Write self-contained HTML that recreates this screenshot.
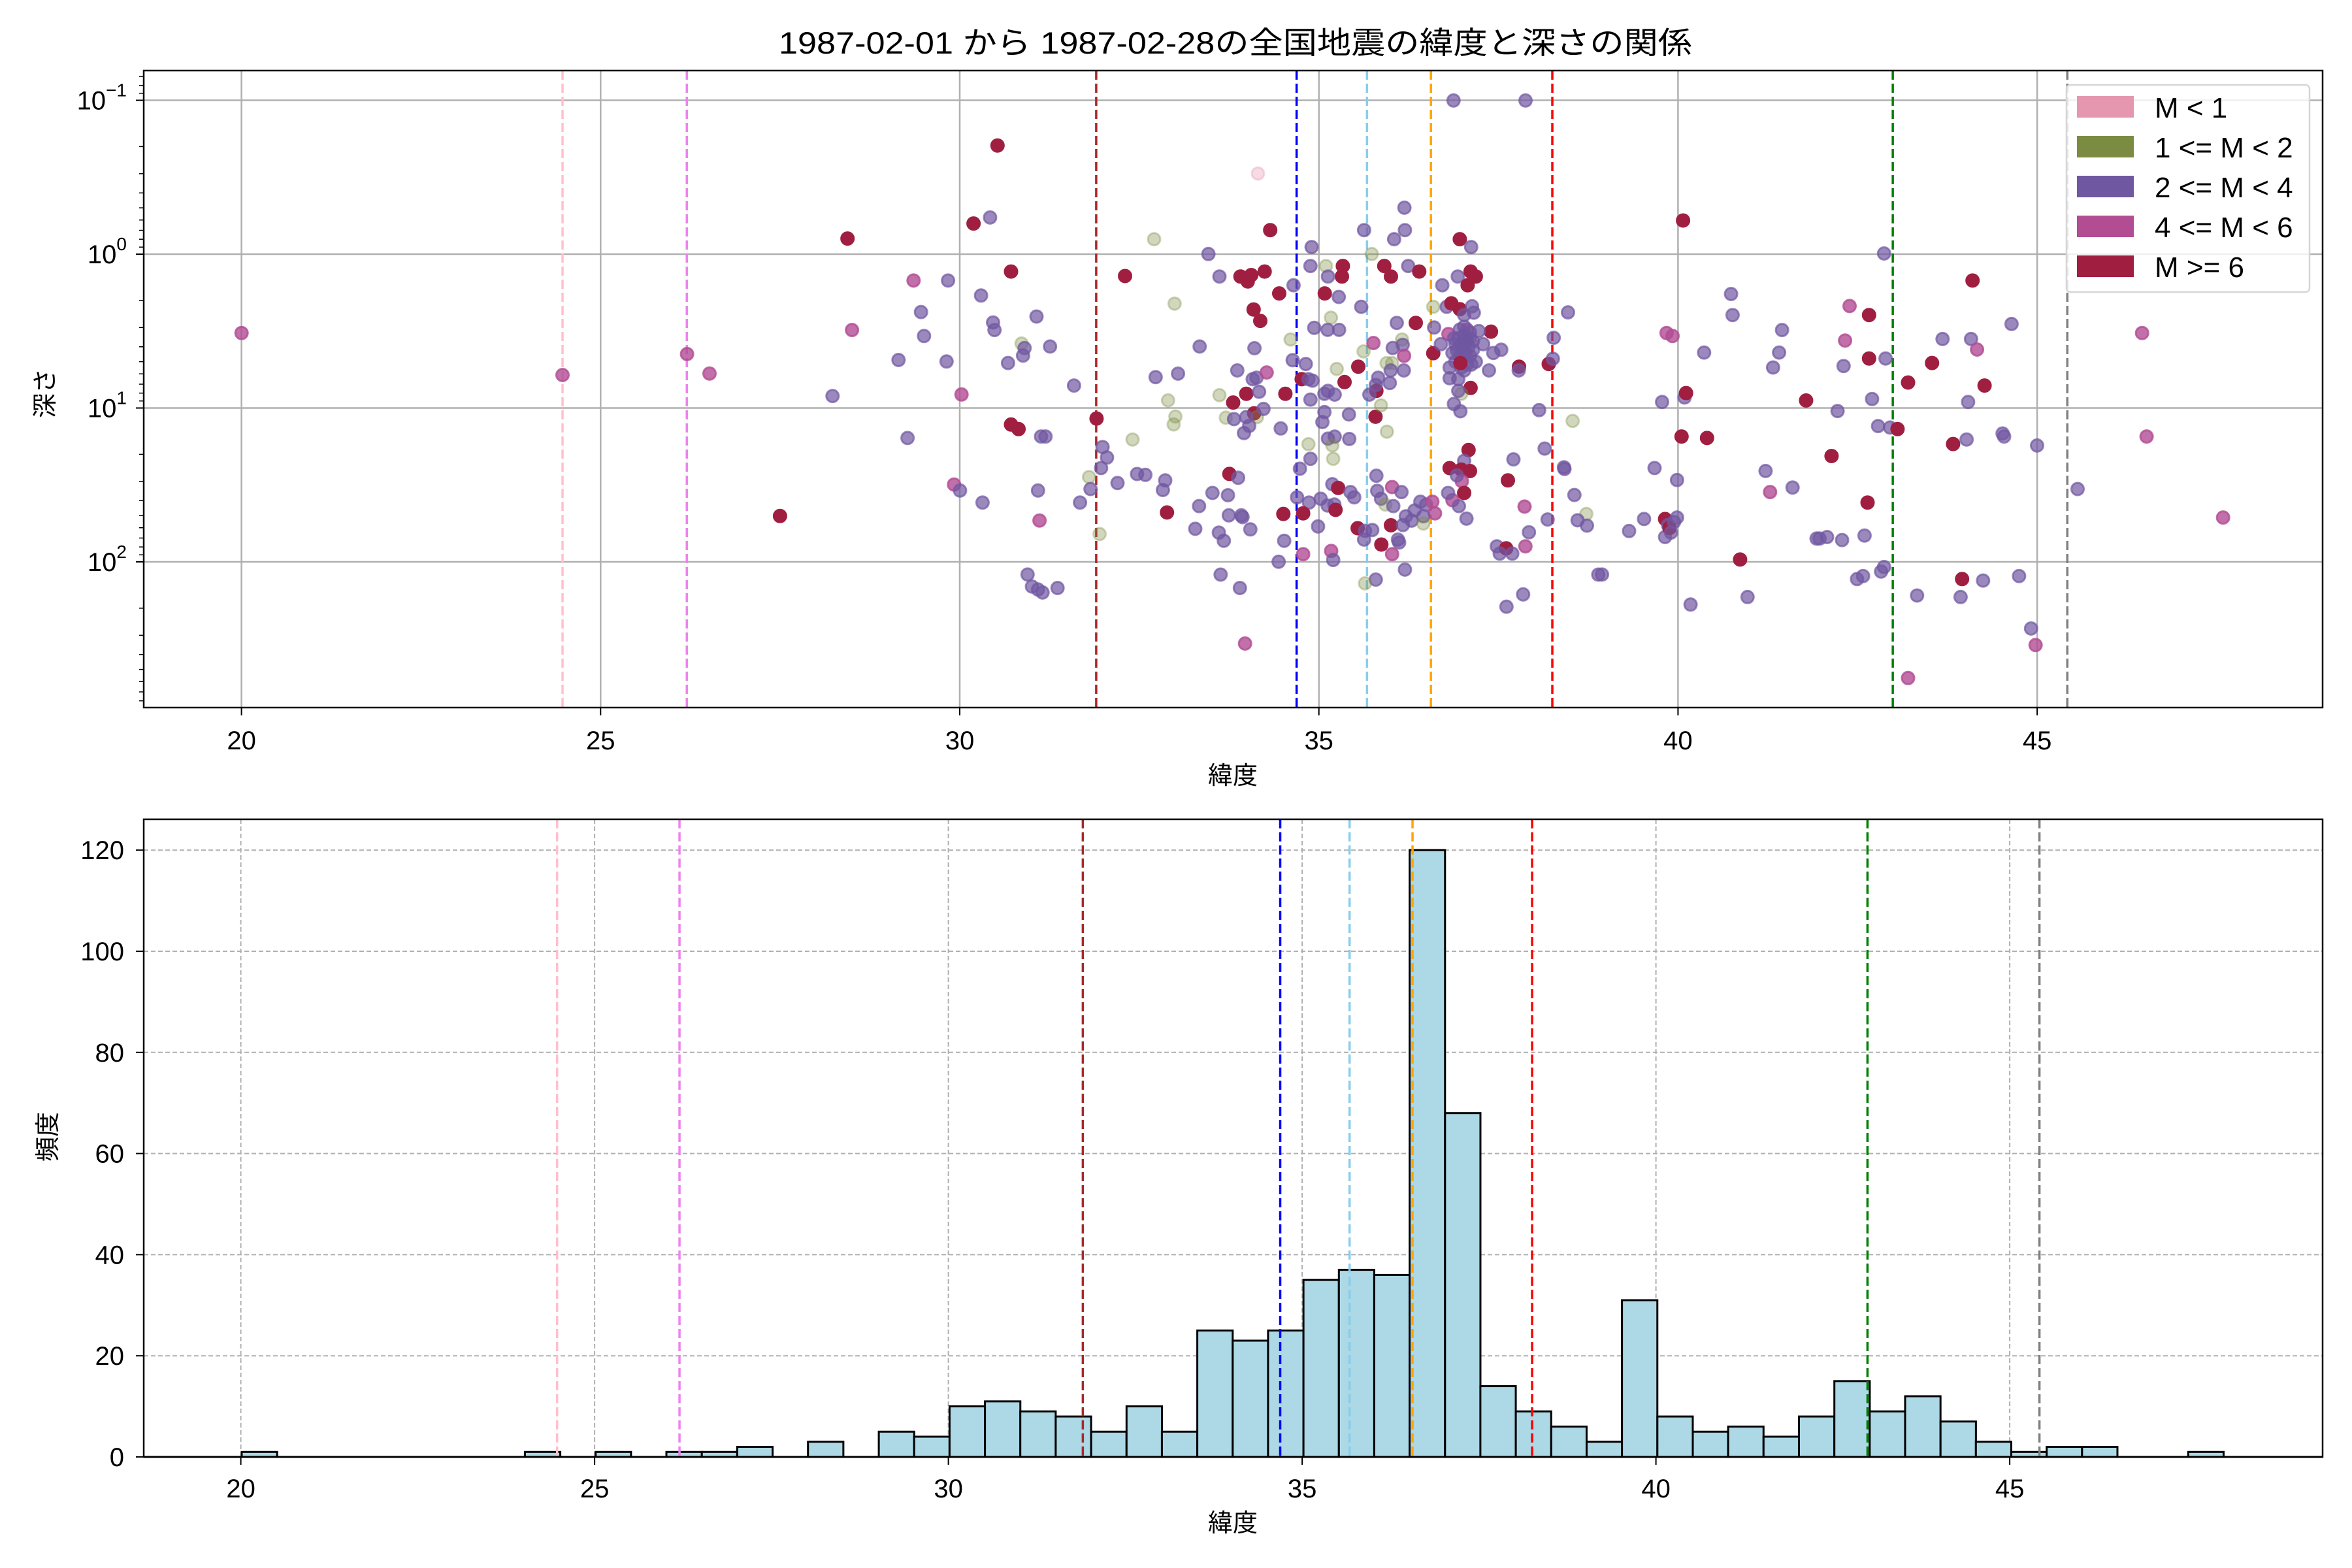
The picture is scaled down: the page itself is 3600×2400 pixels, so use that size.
<!DOCTYPE html>
<html><head><meta charset="utf-8"><style>
html,body{margin:0;padding:0;background:#fff;}
svg{display:block;}
text{font-family:"Liberation Sans","Noto Sans CJK JP",sans-serif;fill:#000;}
</style></head><body>
<svg id="s" xmlns="http://www.w3.org/2000/svg" width="3600" height="2400" viewBox="0 0 3600 2400"></svg>
<script>
const S=document.getElementById('s');let h='';
const L=220,R=3555,T1=108,B1=1083,T2=1254,B2=2230;
const tx=v=>369.6+109.94*(v-20), bx=v=>368.6+108.3*(v-20);
const ty=d=>389+235.5*Math.log10(d), by=c=>2230-7.74*c;
h+=`<rect width="3600" height="2400" fill="#fff"/>`;
h+=`<text x="1891" y="82" font-size="47" text-anchor="middle" textLength="1398" lengthAdjust="spacingAndGlyphs">1987-02-01 から 1987-02-28の全国地震の緯度と深さの関係</text>`;
for(let v=20;v<=45;v+=5){h+=`<line x1="${tx(v)}" y1="${T1}" x2="${tx(v)}" y2="${B1}" stroke="#b0b0b0" stroke-width="2.5"/>`;}
[[0.1,'−1'],[1,'0'],[10,'1'],[100,'2']].forEach(([d,e])=>{const y=ty(d);h+=`<line x1="${L}" y1="${y}" x2="${R}" y2="${y}" stroke="#b0b0b0" stroke-width="2.5"/><line x1="${L-12}" y1="${y}" x2="${L}" y2="${y}" stroke="#000" stroke-width="2"/><text x="194" y="${y+14}" font-size="40" text-anchor="end">10<tspan dy="-20" font-size="28">${e}</tspan></text>`;});
for(let p=-2;p<=2;p++)for(let k=2;k<=9;k++){const y=ty(k*Math.pow(10,p));if(y>T1&&y<B1)h+=`<line x1="${L-7}" y1="${y}" x2="${L}" y2="${y}" stroke="#000" stroke-width="1.5"/>`;}
const vl=[[24.47,'pink'],[26.2,'violet'],[31.9,'#a52a2a'],[34.69,'blue'],[35.67,'skyblue'],[36.56,'orange'],[38.25,'red'],[42.99,'green'],[45.42,'gray']];
vl.forEach(([v,c])=>{h+=`<line x1="${tx(v)}" y1="${T1}" x2="${tx(v)}" y2="${B1}" stroke="${c}" stroke-width="3.5" stroke-dasharray="14,6"/>`;});
const col={p:['#7057a1',0.7],r:['#a01f41',1],o:['#7b8c42',0.35],m:['#b24c93',0.8],k:['#e597b0',0.35]};
function pt(x,y,c){const [f,a]=col[c];h+=`<circle cx="${x.toFixed(1)}" cy="${y.toFixed(1)}" r="9.5" fill="${f}" fill-opacity="${a}" stroke="${f}" stroke-opacity="${a}" stroke-width="3"/>`;}
const D=[[161,222,'m'],[375,250,'m'],[458,236,'m'],[473,249,'m'],[520,344,'r'],[565,159,'r'],[568,220,'m'],[555,264,'p'],[599,240,'p'],[609,187,'m'],[614,208,'p'],[616,224,'p'],[605,292,'p'],[632,187,'p'],[631,241,'p'],[641,263,'m'],[636,323,'m'],[640,327,'p'],[649,149,'r'],[654,197,'p'],[655,335,'p'],[660,145,'p'],[662,215,'p'],[665,97,'r'],[663,220,'p'],[672,242,'p'],[674,181,'r'],[681,229,'o'],[682,237,'p'],[691,211,'p'],[692,327,'p'],[674,283,'r'],[679,286,'r'],[683,232,'p'],[685,383,'p'],[688,391,'p'],[692,393,'p'],[693,347,'m'],[694,291,'p'],[695,395,'p'],[697,291,'p'],[700,231,'p'],[705,392,'p'],[716,257,'p'],[720,335,'p'],[726,318,'o'],[727,326,'p'],[731,279,'r'],[733,356,'o'],[735,298,'p'],[734,312,'p'],[738,305,'p'],[745,322,'p'],[750,184,'r'],[755,293,'o'],[758,316,'p'],[969,67,'p'],[1017,67,'p'],[830,429,'m'],
[1068,383,'p'],[1086,354,'p'],[1096,346,'p'],[1103,312,'p'],[1108,268,'p'],[1110,358,'p'],[1110,346,'r'],[1112,350,'p'],[1113,352,'r'],[1114,355,'p'],[1116,348,'p'],[1118,345,'p'],[1111,222,'m'],[1115,224,'m'],[1122,147,'r'],[1118,320,'p'],[1123,265,'p'],[1121,291,'r'],[1124,262,'r'],[1127,403,'p'],[1136,235,'p'],[1138,292,'r'],[1154,196,'p'],[1155,210,'p'],[1160,373,'r'],[1165,398,'p'],[1177,314,'p'],[1180,328,'m'],[1182,245,'p'],[1186,235,'p'],[1188,220,'p'],[1195,325,'p'],[1204,267,'r'],[1211,359,'p'],[1213,359,'p'],[1218,358,'p'],[1221,304,'r'],[1225,274,'p'],[1228,360,'p'],[1229,244,'p'],[1230,227,'m'],[1233,204,'m'],[1238,386,'p'],[1242,384,'p'],[1245,335,'r'],[1248,266,'p'],[1243,357,'p'],[1246,239,'r'],[1246,210,'r'],[1256,169,'p'],[1254,381,'p'],[1252,284,'p'],[1256,378,'p'],[1257,239,'p'],[1260,285,'p'],[1265,286,'r'],[1272,255,'r'],[1278,397,'p'],[1288,242,'r'],[1295,226,'p'],[1302,296,'r'],[1308,386,'r'],[1311,293,'p'],[1312,268,'p'],[1314,226,'p'],[1315,187,'r'],[1318,233,'m'],[1322,387,'p'],[1323,257,'r'],[1335,289,'p'],[1341,216,'p'],[1346,384,'p'],[1354,419,'p'],[1358,297,'p'],[1385,326,'p'],[1428,222,'m'],[1431,291,'m'],[1482,345,'m'],[1357,430,'m'],[1272,452,'m'],[1307,398,'p'],[1336,291,'p']];
D.forEach(([x,y,c])=>pt(x*2.296,y*2.296,c));
const Z=[[393,35,'k'],[895,152,'p'],[435,229,'r'],[757,229,'p'],[897,229,'p'],[860,260,'p'],[1085,260,'r'],[1124,287,'p'],[37,260,'o'],[223,311,'p'],[577,287,'p'],[783,311,'o'],[261,388,'p'],[333,388,'r'],[358,405,'r'],[370,383,'r'],[416,371,'r'],[515,418,'p'],[573,352,'p'],[626,352,'o'],[633,388,'p'],[684,352,'r'],[681,388,'r'],[826,352,'r'],[849,388,'r'],[908,352,'p'],[946,371,'r'],[1025,418,'p'],[1078,388,'p'],[1122,371,'r'],[1140,388,'r'],[1112,418,'r'],[107,481,'o'],[466,446,'r'],[378,501,'r'],[401,540,'r'],[622,446,'r'],[670,458,'p'],[747,492,'p'],[643,529,'o'],[586,564,'p'],[632,571,'p'],[671,571,'p'],[869,547,'p'],[934,547,'r'],[994,492,'o'],[1040,492,'p'],[1056,480,'r'],[1085,500,'r'],[1127,490,'p'],[1133,512,'p'],[1100,520,'p'],[1456,511,'p'],[997,563,'p'],[1192,577,'r'],[1407,598,'p'],[193,628,'p'],[381,634,'p'],[505,604,'o'],[789,616,'m'],[755,645,'o'],[855,633,'p'],[887,604,'o'],[889,622,'p'],[894,660,'m'],[994,651,'r'],[1046,585,'m'],[1110,570,'m'],[1150,575,'p'],[1165,620,'p'],[1200,650,'p'],[1227,639,'p'],[1020,620,'p'],[1080,600,'p'],[1100,640,'p'],[1120,660,'p'],[1090,700,'p'],[1060,650,'p'],[1130,610,'p'],[1070,620,'p'],[1110,690,'p'],[1050,700,'p'],[1140,680,'p'],[1095,620,'p'],[1105,600,'p'],[1115,630,'p'],[1085,570,'p'],[1100,590,'p'],[1120,600,'p'],[1075,640,'p'],[1095,660,'p'],[1110,610,'p'],[1130,640,'p'],[1085,660,'p'],[1100,560,'p'],[1120,580,'p'],[1065,600,'p'],[1090,620,'p'],[1105,650,'p'],[1125,690,'p'],[1070,680,'p'],[1100,710,'p'],[1087,685,'r'],[1288,697,'r'],[1390,688,'r'],[1404,670,'p'],[1185,710,'p'],[1287,710,'p'],[42,733,'p'],[119,721,'p'],[322,710,'p'],[375,740,'p'],[388,735,'p'],[423,717,'m'],[512,675,'p'],[557,688,'p'],[543,740,'r'],[566,740,'p'],[580,745,'p'],[663,705,'o'],[737,697,'r'],[834,685,'o'],[853,685,'o'],[893,710,'p'],[848,710,'p'],[805,735,'p'],[690,750,'r'],[633,780,'p'],[621,790,'p'],[656,793,'p'],[487,790,'r'],[353,790,'r'],[397,783,'p'],[261,795,'o'],[308,820,'r'],[85,813,'o'],[1050,737,'p'],[1080,740,'p'],[1122,770,'r'],[1090,790,'o'],[1080,780,'p'],[845,753,'p'],[799,780,'r'],[775,793,'p'],[797,760,'p'],[573,810,'p'],[110,868,'o'],[104,895,'o'],[283,872,'o'],[311,877,'p'],[380,857,'r'],[390,870,'o'],[412,842,'p'],[353,870,'p'],[363,900,'p'],[345,925,'p'],[471,909,'p'],[621,853,'p'],[614,887,'p'],[705,861,'p'],[796,869,'r'],[815,830,'o'],[835,920,'o'],[1065,825,'p'],[1087,850,'p'],[1357,846,'p'],[1472,883,'o'],[566,963,'o'],[633,944,'p'],[656,937,'p'],[648,967,'o'],[706,945,'p'],[1115,983,'r'],[1376,978,'p'],[1269,1015,'p'],[1100,1020,'p'],[1050,1045,'r'],[1090,1050,'r'],[1120,1055,'r'],[1092,1090,'m'],[1075,1070,'p'],[1442,1042,'p'],[1444,1048,'p'],[7,1068,'p'],[75,1087,'p'],[67,1120,'p'],[295,1065,'r'],[325,1078,'p'],[237,1130,'p'],[290,1138,'p'],[191,1175,'p'],[81,1197,'r'],[537,1047,'p'],[573,1013,'p'],[651,1013,'o'],[799,1071,'p'],[648,1100,'p'],[668,1113,'r'],[710,1127,'p'],[723,1145,'p'],[527,1145,'p'],[568,1163,'p'],[608,1150,'p'],[632,1173,'p'],[655,1170,'p'],[659,1188,'r'],[480,1202,'r'],[548,1200,'r'],[802,1123,'p'],[853,1110,'m'],[885,1127,'p'],[815,1150,'p'],[830,1170,'o'],[857,1175,'p'],[950,1160,'p'],[970,1170,'p'],[991,1160,'m'],[1000,1200,'m'],[1060,1155,'m'],[1045,1130,'p'],[1100,1130,'r'],[1082,1175,'p'],[1108,1218,'p'],[960,1210,'p'],[930,1190,'p'],[900,1210,'p'],[920,1225,'p'],[1250,1087,'r'],[1307,1177,'m'],[1478,1137,'p'],[1519,1202,'o'],[1489,1224,'p'],[1521,1242,'p'],[1386,1221,'p'],[178,1253,'p'],[259,1266,'p'],[276,1294,'p'],[293,1207,'p'],[336,1207,'p'],[340,1213,'p'],[367,1255,'p'],[483,1294,'p'],[599,1245,'p'],[735,1251,'r'],[760,1260,'p'],[785,1257,'p'],[757,1290,'p'],[849,1241,'r'],[890,1240,'p'],[960,1235,'o'],[877,1300,'p'],[873,1290,'p'],[816,1307,'r'],[853,1340,'m'],[548,1340,'m'],[644,1329,'m'],[651,1360,'p'],[464,1366,'p'],[1212,1313,'p'],[1244,1320,'r'],[1265,1338,'p'],[1222,1338,'p'],[1310,1313,'m'],[1322,1265,'p'],[265,1410,'p'],[331,1456,'p'],[897,1393,'p'],[797,1427,'p'],[760,1440,'o'],[1302,1478,'p'],[1245,1520,'p'],[1560,1410,'p']];
Z.forEach(([x,y,c])=>pt(1750+x/2.24,250+y/2.24,c));
h+=`<rect x="${L}" y="${T1}" width="${R-L}" height="${B1-T1}" fill="none" stroke="#000" stroke-width="2.5"/>`;
for(let v=20;v<=45;v+=5){h+=`<line x1="${tx(v)}" y1="${B1}" x2="${tx(v)}" y2="${B1+12}" stroke="#000" stroke-width="2"/><text x="${tx(v)}" y="${B1+64}" font-size="40" text-anchor="middle">${v}</text>`;}
h+=`<rect x="3163" y="130" width="372" height="317" rx="6" fill="#fff" fill-opacity="0.8" stroke="#d6d6d6" stroke-width="2.5"/>`;
[['#e597b0','M &lt; 1'],['#7b8c42','1 &lt;= M &lt; 2'],['#7057a1','2 &lt;= M &lt; 4'],['#b24c93','4 &lt;= M &lt; 6'],['#a01f41','M &gt;= 6']].forEach(([c,t],i)=>{const y=164+61*i;h+=`<rect x="3179" y="${y-17}" width="87" height="33" fill="${c}"/><text x="3298" y="${y+16}" font-size="44">${t}</text>`;});
h+=`<text x="1887" y="1200" font-size="38" text-anchor="middle">緯度</text>`;
h+=`<text transform="translate(82,602) rotate(-90)" font-size="38" text-anchor="middle">深さ</text>`;
for(let v=20;v<=45;v+=5){h+=`<line x1="${bx(v)}" y1="${T2}" x2="${bx(v)}" y2="${B2}" stroke="#b0b0b0" stroke-width="2" stroke-dasharray="7,4"/>`;}
for(let c=0;c<=120;c+=20){const y=by(c);h+=`<line x1="${L}" y1="${y}" x2="${R}" y2="${y}" stroke="#b0b0b0" stroke-width="2" stroke-dasharray="7,4"/><line x1="${L-12}" y1="${y}" x2="${L}" y2="${y}" stroke="#000" stroke-width="2"/><text x="190" y="${y+14}" font-size="40" text-anchor="end">${c}</text>`;}
const cnt={0:1,8:1,10:1,12:1,13:1,14:2,16:3,18:5,19:4,20:10,21:11,22:9,23:8,24:5,25:10,26:5,27:25,28:23,29:25,30:35,31:37,32:36,33:120,34:68,35:14,36:9,37:6,38:3,39:31,40:8,41:5,42:6,43:4,44:8,45:15,46:9,47:12,48:7,49:3,50:1,51:2,52:2,55:1};
for(const k in cnt){const x=370+54.17*k;const y=by(cnt[k]);h+=`<rect x="${x.toFixed(1)}" y="${y.toFixed(1)}" width="54.17" height="${(B2-y).toFixed(1)}" fill="lightblue" stroke="#000" stroke-width="3"/>`;}
h+=`<line x1="${L}" y1="${B2}" x2="${R}" y2="${B2}" stroke="#000" stroke-width="3"/>`;
vl.forEach(([v,c])=>{h+=`<line x1="${bx(v)}" y1="${T2}" x2="${bx(v)}" y2="${B2}" stroke="${c}" stroke-width="3.5" stroke-dasharray="14,6"/>`;});
h+=`<rect x="${L}" y="${T2}" width="${R-L}" height="${B2-T2}" fill="none" stroke="#000" stroke-width="2.5"/>`;
for(let v=20;v<=45;v+=5){h+=`<line x1="${bx(v)}" y1="${B2}" x2="${bx(v)}" y2="${B2+12}" stroke="#000" stroke-width="2"/><text x="${bx(v)}" y="${B2+62}" font-size="40" text-anchor="middle">${v}</text>`;}
h+=`<text x="1887" y="2344" font-size="38" text-anchor="middle">緯度</text>`;
h+=`<text transform="translate(86,1740) rotate(-90)" font-size="38" text-anchor="middle">頻度</text>`;
S.innerHTML=h;
</script>
</body></html>
